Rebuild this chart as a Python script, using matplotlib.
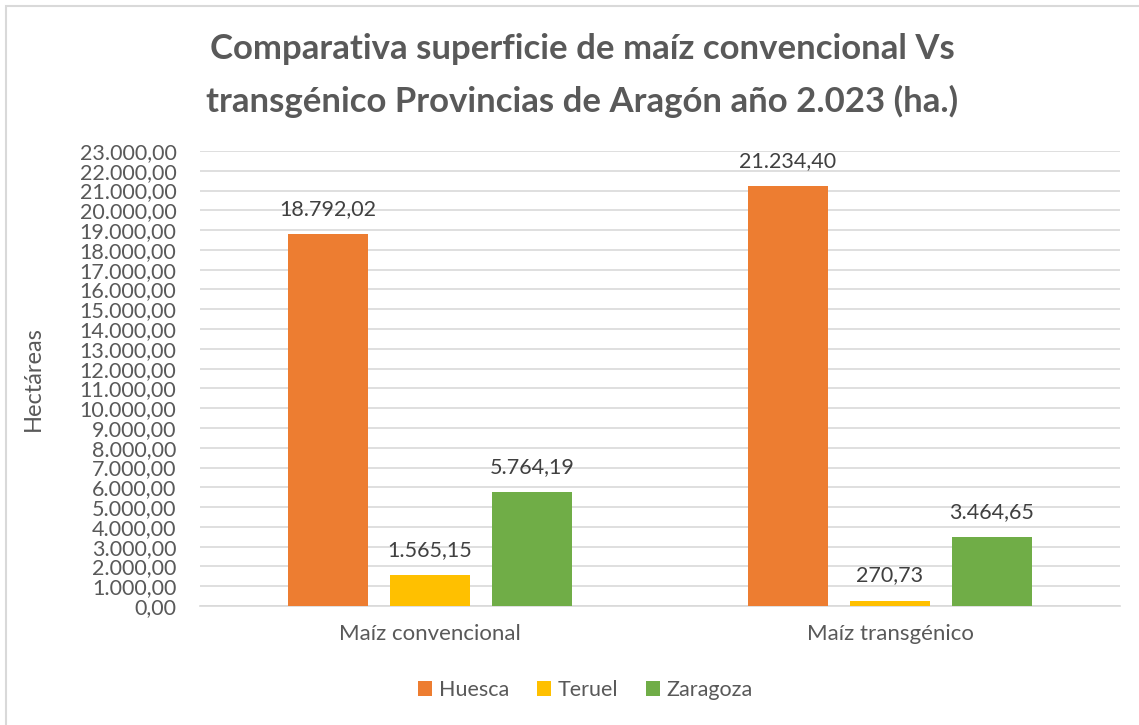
import matplotlib.pyplot as plt
from matplotlib.patches import Rectangle

categorias = ['Maíz convencional', 'Maíz transgénico']
provincias = ['Huesca', 'Teruel', 'Zaragoza']
huesca = [18792.02, 21234.40]
teruel = [1565.15, 270.73]
zaragoza = [5764.19, 3464.65]
colores = ['#ED7D31', '#FFC000', '#70AD47']


def fmt_es(v):
    s = f'{v:,.2f}'
    return s.replace(',', 'X').replace('.', ',').replace('X', '.')


plt.rcParams['font.family'] = ['Lato', 'DejaVu Sans']
gris = '#595959'

fig = plt.figure(figsize=(11.39, 7.25), dpi=100)
ax = fig.add_axes([200 / 1139, 1 - 606 / 725, 920 / 1139, 455 / 725])

series = [huesca, teruel, zaragoza]
ancho = 0.174
paso = 0.2217
for i, (nombre, valores) in enumerate(zip(provincias, series)):
    xs = [c + (i - 1) * paso for c in range(len(categorias))]
    barras = ax.bar(xs, valores, ancho, color=colores[i], label=nombre, zorder=3)
    for b, v in zip(barras, valores):
        ax.annotate(fmt_es(v), (b.get_x() + b.get_width() / 2, v),
                    xytext=(0, 11), textcoords='offset points',
                    ha='center', va='bottom', fontsize=15.5, color='#404040')

ax.set_xlim(-0.5, 1.5)
ax.set_ylim(0, 23000)
ax.set_yticks(range(0, 23001, 1000))
ax.set_yticklabels([fmt_es(v) for v in range(0, 23001, 1000)], fontsize=15.5, color=gris)
ax.set_xticks(range(len(categorias)))
ax.set_xticklabels(categorias, fontsize=16, color=gris)
ax.tick_params(axis='both', length=0)
ax.tick_params(axis='x', pad=13)
ax.tick_params(axis='y', pad=17)
ax.grid(axis='y', color='#D9D9D9', linewidth=1.2, zorder=0)
for lado in ['top', 'right', 'left']:
    ax.spines[lado].set_visible(False)
ax.spines['bottom'].set_color('#D9D9D9')
ax.spines['bottom'].set_linewidth(1.2)

ax.set_ylabel('Hectáreas', fontsize=17, color=gris)
ax.yaxis.set_label_coords(-0.170, 0.5)

fig.text(0.511, 1 - 49 / 725, 'Comparativa superficie de maíz convencional Vs',
         ha='center', va='center', fontsize=25, fontweight='bold', color=gris)
fig.text(0.511, 1 - 101 / 725, 'transgénico Provincias de Aragón año 2.023 (ha.)',
         ha='center', va='center', fontsize=25, fontweight='bold', color=gris)

fig.legend(loc='center', bbox_to_anchor=(0.514, 1 - 690 / 725), ncol=3, frameon=False,
           fontsize=15.5, handlelength=0.65, handleheight=0.65, handletextpad=0.3,
           columnspacing=1.3, labelcolor=gris)

fig.patches.append(Rectangle((6 / 1139, -0.1), 1.2, 1.1 - 6 / 725, transform=fig.transFigure,
                             fill=False, edgecolor='#D9D9D9', linewidth=1.5))

fig.savefig('out.png', dpi=100)
